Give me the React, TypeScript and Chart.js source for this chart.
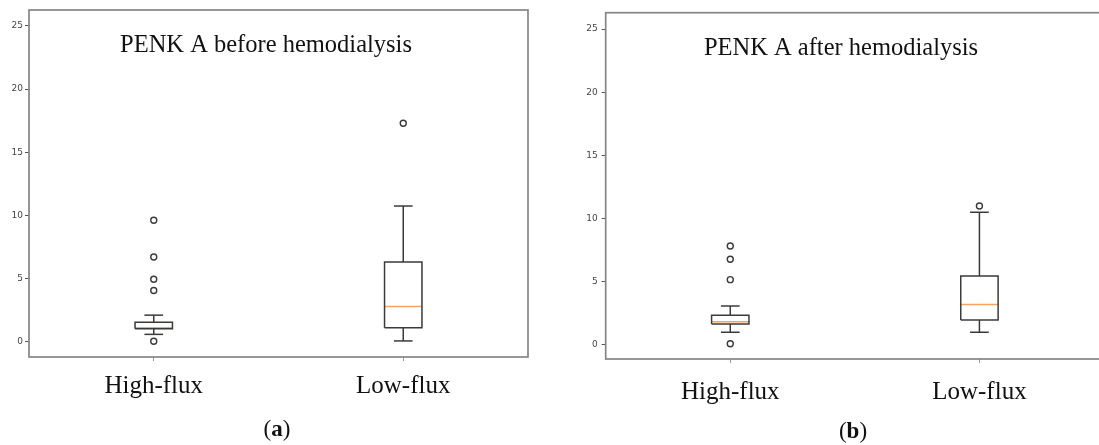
import React, { useEffect, useRef } from "react";
import { Chart, registerables } from "chart.js";

Chart.register(...registerables);

// ---------- data ----------
const categories = ["High-flux", "Low-flux"];
const categoryPositions = [1, 2];
const yTickValues = [0, 5, 10, 15, 20, 25];

const beforeTitle = "PENK A before hemodialysis";
const beforeQ1 = [1.04, 1.13];
const beforeMedian = [1.12, 2.8];
const beforeQ3 = [1.55, 6.32];
const beforeWhiskerLow = [0.6, 0.08];
const beforeWhiskerHigh = [2.12, 10.75];
const beforeOutliersHighFlux = [9.62, 6.72, 4.96, 4.07, 0.05];
const beforeOutliersLowFlux = [17.29];

const afterTitle = "PENK A after hemodialysis";
const afterQ1 = [1.65, 1.98];
const afterMedian = [1.84, 3.2];
const afterQ3 = [2.35, 5.46];
const afterWhiskerLow = [1.0, 1.0];
const afterWhiskerHigh = [3.09, 10.5];
const afterOutliersHighFlux = [7.83, 6.78, 5.17, 0.1];
const afterOutliersLowFlux = [11.0];

// ---------- styles ----------
const BOX_WIDTH = 0.15;
const BOX_COLOR = "#3a3a3a";
const MEDIAN_COLOR = "#f9a25e";
const FRAME_COLOR = "#858585";
const SERIF = '"Liberation Serif", "DejaVu Serif", serif';

function seg(points: { x: number; y: number }[], color: string, width = 1.5) {
  return {
    data: points,
    showLine: true,
    borderColor: color,
    borderWidth: width,
    pointRadius: 0,
    fill: false,
    tension: 0,
    borderJoinStyle: "miter",
  };
}

function buildDatasets(
  q1: number[],
  med: number[],
  q3: number[],
  lo: number[],
  hi: number[],
  outliers: number[][]
) {
  const ds: any[] = [];
  categoryPositions.forEach((x, i) => {
    const h = BOX_WIDTH / 2;
    const c = BOX_WIDTH / 4;
    ds.push(seg([{ x, y: q3[i] }, { x, y: hi[i] }], BOX_COLOR));
    ds.push(seg([{ x, y: q1[i] }, { x, y: lo[i] }], BOX_COLOR));
    ds.push(seg([{ x: x - c, y: hi[i] }, { x: x + c, y: hi[i] }], BOX_COLOR));
    ds.push(seg([{ x: x - c, y: lo[i] }, { x: x + c, y: lo[i] }], BOX_COLOR));
    ds.push(
      seg(
        [
          { x: x - h, y: q1[i] },
          { x: x + h, y: q1[i] },
          { x: x + h, y: q3[i] },
          { x: x - h, y: q3[i] },
          { x: x - h, y: q1[i] },
        ],
        BOX_COLOR
      )
    );
    ds.push(seg([{ x: x - h, y: med[i] }, { x: x + h, y: med[i] }], MEDIAN_COLOR, 1.5));
    ds.push({
      data: outliers[i].map((y) => ({ x, y })),
      showLine: false,
      pointRadius: 3,
      pointBorderWidth: 1.4,
      pointBorderColor: BOX_COLOR,
      pointBackgroundColor: "#ffffff",
      pointStyle: "circle",
    });
  });
  return ds;
}

type PanelProps = {
  left: number;
  width: number;
  title: string;
  titleX: number;
  titleBaseline: number;
  padTop: number;
  padRight: number;
  yAxisWidth: number;
  xAxisHeight: number;
  yMin: number;
  yMax: number;
  yPad: number;
  xPad: number;
  datasets: any[];
  caption: string;
  captionX: number;
  captionY: number;
};

function Panel(p: PanelProps) {
  const ref = useRef<HTMLCanvasElement | null>(null);
  useEffect(() => {
    if (!ref.current) return;
    const framePlugin = {
      id: "frame",
      afterDraw(chart: any) {
        const { ctx, chartArea } = chart;
        ctx.save();
        ctx.strokeStyle = FRAME_COLOR;
        ctx.lineWidth = 1.7;
        ctx.strokeRect(
          chartArea.left,
          chartArea.top,
          chartArea.right - chartArea.left,
          chartArea.bottom - chartArea.top
        );
        ctx.fillStyle = "#111";
        ctx.font = `24.5px ${SERIF}`;
        ctx.textAlign = "center";
        ctx.textBaseline = "alphabetic";
        ctx.fillText(p.title, p.titleX, p.titleBaseline);
        ctx.restore();
      },
    };
    const chart = new Chart(ref.current, {
      type: "scatter",
      data: { datasets: p.datasets },
      options: {
        responsive: false,
        animation: false,
        events: [],
        layout: { padding: { left: 0, top: p.padTop, right: p.padRight, bottom: 0 } },
        plugins: {
          legend: { display: false },
          tooltip: { enabled: false },
          title: { display: false },
        },
        scales: {
          x: {
            type: "linear",
            min: 0.5,
            max: 2.5,
            afterBuildTicks: (s: any) => {
              s.ticks = categoryPositions.map((v) => ({ value: v }));
            },
            afterFit: (s: any) => {
              s.height = p.xAxisHeight;
            },
            grid: { drawOnChartArea: false, drawTicks: true, tickLength: 4, tickColor: "#999" },
            border: { display: false },
            ticks: {
              padding: p.xPad,
              autoSkip: false,
              maxRotation: 0,
              color: "#111",
              font: { family: SERIF, size: 25 },
              callback: (v: any) => {
                const i = categoryPositions.indexOf(Number(v));
                return i >= 0 ? categories[i] : "";
              },
            },
          },
          y: {
            type: "linear",
            min: p.yMin,
            max: p.yMax,
            afterBuildTicks: (s: any) => {
              s.ticks = yTickValues.map((v) => ({ value: v }));
            },
            afterFit: (s: any) => {
              s.width = p.yAxisWidth;
            },
            grid: { drawOnChartArea: false, drawTicks: true, tickLength: 4, tickColor: "#555" },
            border: { display: false },
            ticks: {
              padding: p.yPad,
              color: "#444",
              font: { family: '"DejaVu Sans", sans-serif', size: 9 },
              callback: (v: any) => String(v),
            },
          },
        },
      } as any,
      plugins: [framePlugin],
    });
    return () => chart.destroy();
  }, []);
  const letter = p.caption;
  return (
    <>
      <canvas
        ref={ref}
        width={p.width}
        height={445}
        style={{ position: "absolute", left: p.left, top: 0, width: p.width, height: 445 }}
      />
      <div
        style={{
          position: "absolute",
          left: p.left + p.captionX - 40,
          width: 80,
          top: p.captionY - 14,
          height: 28,
          lineHeight: "28px",
          textAlign: "center",
          fontFamily: SERIF,
          fontSize: 23,
          color: "#111",
        }}
      >
        (<b>{letter}</b>)
      </div>
    </>
  );
}

export default function App() {
  const beforeSets = buildDatasets(
    beforeQ1,
    beforeMedian,
    beforeQ3,
    beforeWhiskerLow,
    beforeWhiskerHigh,
    [beforeOutliersHighFlux, beforeOutliersLowFlux]
  );
  const afterSets = buildDatasets(
    afterQ1,
    afterMedian,
    afterQ3,
    afterWhiskerLow,
    afterWhiskerHigh,
    [afterOutliersHighFlux, afterOutliersLowFlux]
  );
  return (
    <div
      style={{
        position: "fixed",
        left: 0,
        top: 0,
        width: 1099,
        height: 445,
        overflow: "hidden",
        background: "#ffffff",
      }}
    >
      <Panel
        left={0}
        width={550}
        title={beforeTitle}
        titleX={266}
        titleBaseline={52}
        padTop={10}
        padRight={22}
        yAxisWidth={29}
        xAxisHeight={88}
        yMin={-1.19}
        yMax={26.25}
        yPad={2}
        xPad={10.6}
        datasets={beforeSets}
        caption="a"
        captionX={277}
        captionY={429}
      />
      <Panel
        left={550}
        width={560}
        title={afterTitle}
        titleX={291}
        titleBaseline={55}
        padTop={12.7}
        padRight={6}
        yAxisWidth={55.7}
        xAxisHeight={86}
        yMin={-1.11}
        yMax={26.29}
        yPad={4}
        xPad={14.6}
        datasets={afterSets}
        caption="b"
        captionX={303}
        captionY={431}
      />
    </div>
  );
}
